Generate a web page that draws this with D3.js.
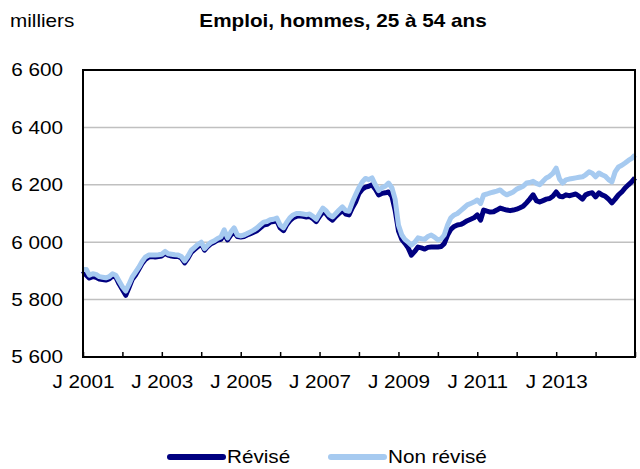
<!DOCTYPE html>
<html>
<head>
<meta charset="utf-8">
<script src="https://cdn.jsdelivr.net/npm/d3@7"></script>
<style>
  body { margin: 0; background: #fff; }
  svg { font-family: "Liberation Sans", Arial, sans-serif; }
</style>
</head>
<body>
<svg width="640" height="469"></svg>
<script>
// monthly values, J 2001 .. J 2015 (thousands)
const revise = [
  5900, 5885, 5875, 5880, 5878, 5872, 5870, 5868, 5872, 5882, 5878, 5855,
  5835, 5815, 5840, 5870, 5885, 5905, 5925, 5940, 5948, 5950, 5948, 5950,
  5952, 5962, 5955, 5952, 5950, 5950, 5945, 5928, 5945, 5965, 5975, 5985,
  5995, 5972, 5985, 5995, 6000, 6007, 6010, 6028, 6008, 6025, 6035, 6020,
  6018, 6020, 6025, 6030, 6035, 6040, 6050, 6060, 6062, 6070, 6072, 6075,
  6050, 6040, 6060, 6075, 6085, 6090, 6092, 6090, 6088, 6090, 6082, 6072,
  6090, 6105, 6100, 6085, 6077, 6090, 6100, 6110, 6098, 6095, 6120, 6140,
  6170, 6185, 6192, 6195, 6200, 6185, 6165, 6170, 6172, 6175, 6160, 6112,
  6040, 6010, 5997, 5980, 5955, 5968, 5983, 5980, 5976, 5982, 5983, 5983,
  5983, 5985, 5995, 6025, 6045, 6055, 6060, 6062, 6068, 6075, 6080, 6085,
  6095, 6077, 6112, 6108, 6105, 6106, 6112, 6119, 6115, 6112, 6110, 6112,
  6115, 6120, 6125, 6137, 6150, 6165, 6145, 6140, 6145, 6150, 6152, 6160,
  6175, 6160, 6158, 6165, 6162, 6165, 6168, 6160, 6150, 6165, 6170, 6172,
  6158, 6172, 6165, 6160, 6150, 6137, 6150, 6165, 6175, 6189, 6200, 6210,
  6224
];
const nonRevise = [
  5905, 5905, 5885, 5890, 5888, 5880, 5878, 5876, 5880, 5890, 5885, 5865,
  5845, 5830, 5852, 5878, 5895, 5912, 5932, 5948, 5955, 5955, 5955, 5956,
  5958, 5968, 5960, 5958, 5956, 5955, 5950, 5935, 5952, 5972, 5982, 5992,
  6000, 5978, 5990, 6000, 6005, 6013, 6018, 6043, 6015, 6035, 6050, 6025,
  6022, 6025, 6030, 6036, 6042, 6050, 6060, 6070, 6072, 6078, 6080, 6084,
  6060, 6050, 6068, 6085, 6095, 6100, 6100, 6098, 6096, 6098, 6090, 6080,
  6100, 6119, 6110, 6095, 6088, 6100, 6112, 6123, 6110, 6108, 6140, 6165,
  6190, 6210, 6222, 6218, 6224, 6200, 6180, 6190, 6195, 6206, 6190, 6150,
  6060, 6025, 6010, 6000, 5990, 6000, 6015, 6012, 6010, 6020, 6025, 6018,
  6008, 6012, 6025, 6060, 6085, 6095, 6100, 6110, 6120, 6130, 6135, 6140,
  6147, 6135, 6165, 6168, 6172, 6175, 6178, 6182, 6172, 6165, 6170, 6175,
  6185, 6190, 6195, 6206, 6208, 6212, 6205, 6200, 6212, 6224, 6230, 6240,
  6258, 6220, 6206, 6217, 6220, 6222, 6224, 6226, 6228, 6235, 6245, 6240,
  6228, 6241, 6235, 6230, 6218, 6210, 6245, 6262, 6268, 6276, 6285, 6292,
  6304
];
const yTicks = [5600, 5800, 6000, 6200, 6400, 6600];
const months = d3.timeMonth.range(new Date(2001, 0, 1), new Date(2015, 0, 2));

const svg = d3.select('svg');
const plotL = 83, plotR = 635, plotT = 70, plotB = 357;
const stretch = 'scale(1.15, 1)';   // text in the picture is a bit wide

const x = d3.scaleTime().domain([new Date(2001, 0, 1), new Date(2015, 0, 1)]).range([plotL, plotR]);
const y = d3.scaleLinear().domain([5600, 6600]).range([plotB, plotT]);
const fmt = v => d3.format(',')(v).replace(',', ' ');

// gridlines
svg.append('g')
    .selectAll('line')
    .data(yTicks.slice(1, -1))
    .join('line')
    .attr('x1', plotL).attr('x2', plotR)
    .attr('y1', d => y(d)).attr('y2', d => y(d))
    .attr('stroke', '#c0c0c0')
    .attr('stroke-width', 1.5);

// y labels
svg.append('g')
    .selectAll('g')
    .data(yTicks)
    .join('g')
    .attr('transform', d => `translate(63, ${y(d)})`)
    .append('text')
    .attr('transform', stretch)
    .attr('dy', '0.36em')
    .attr('text-anchor', 'end')
    .style('font-size', '18px')
    .text(fmt);

// x axis ticks (inside) and labels
const xAxis = d3.axisBottom(x)
    .ticks(d3.timeYear.every(1))
    .tickSizeInner(-5)
    .tickSizeOuter(0)
    .tickFormat(d => d.getFullYear() % 2 === 1 && d.getFullYear() < 2015 ? 'J ' + d.getFullYear() : '');
const gx = svg.append('g')
    .attr('transform', `translate(0, ${plotB})`)
    .call(xAxis);
gx.select('.domain').remove();
gx.selectAll('line').attr('stroke', '#000').attr('stroke-width', 1.5);
gx.selectAll('text')
    .attr('y', 31)
    .attr('dy', 0)
    .attr('transform', stretch)
    .attr('fill', '#000')
    .style('font-size', '18px')
    .style('font-family', '"Liberation Sans", Arial, sans-serif');

// lines
const line = d3.line()
    .x((d, i) => x(months[i]))
    .y(d => y(d));
svg.append('path')
    .datum(revise)
    .attr('fill', 'none')
    .attr('stroke', '#000080')
    .attr('stroke-width', 5)
    .attr('stroke-linejoin', 'round')
    .attr('d', line);
svg.append('path')
    .datum(nonRevise)
    .attr('fill', 'none')
    .attr('stroke', '#a6caf0')
    .attr('stroke-width', 5)
    .attr('stroke-linejoin', 'round')
    .attr('d', line);

// frame
svg.append('rect')
    .attr('x', plotL).attr('y', plotT)
    .attr('width', plotR - plotL).attr('height', plotB - plotT)
    .attr('fill', 'none')
    .attr('stroke', '#000')
    .attr('stroke-width', 2);

// titles
svg.append('g')
    .attr('transform', 'translate(10, 27)')
    .append('text')
    .attr('transform', stretch)
    .style('font-size', '18px')
    .text('milliers');
svg.append('g')
    .attr('transform', 'translate(343, 27)')
    .append('text')
    .attr('transform', stretch)
    .attr('text-anchor', 'middle')
    .style('font-size', '18px')
    .style('font-weight', 'bold')
    .text('Emploi, hommes, 25 à 54 ans');

// legend
const legend = [
  { name: 'Révisé', color: '#000080', x: 170 },
  { name: 'Non révisé', color: '#a6caf0', x: 331 }
];
const lg = svg.append('g')
    .selectAll('g')
    .data(legend)
    .join('g')
    .attr('transform', d => `translate(${d.x}, 457)`);
lg.append('line')
    .attr('x1', 0).attr('x2', 53)
    .attr('stroke', d => d.color)
    .attr('stroke-width', 6)
    .attr('stroke-linecap', 'round');
lg.append('text')
    .attr('transform', 'translate(57, 0) ' + stretch)
    .attr('dy', '0.36em')
    .style('font-size', '18px')
    .text(d => d.name);
</script>
</body>
</html>
